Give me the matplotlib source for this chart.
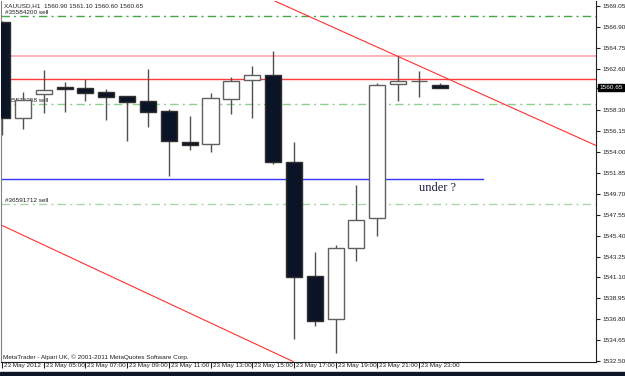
import matplotlib
matplotlib.use("Agg")
import matplotlib.pyplot as plt
import matplotlib.patches as patches
from matplotlib.transforms import ScaledTranslation
import numpy as np

# hourly XAUUSD bars, 23 May 2012 03:00 .. 24 May 00:00
opens = [1567.44, 1557.52, 1559.98, 1560.66, 1560.60, 1560.15, 1559.74, 1559.30, 1558.27, 1555.09, 1554.85,
         1559.47, 1561.42, 1561.94, 1553.03, 1541.23, 1536.78, 1544.13, 1547.25, 1561.04, 1561.32, 1560.90]
highs = [1567.50, 1560.22, 1562.48, 1561.25, 1561.52, 1560.50, 1559.80, 1562.55, 1558.40, 1557.76, 1560.05,
         1561.69, 1562.89, 1564.43, 1555.09, 1543.72, 1544.41, 1550.64, 1561.11, 1563.85, 1562.38, 1561.10]
lows = [1555.81, 1556.39, 1557.99, 1558.10, 1559.22, 1557.35, 1555.19, 1556.63, 1551.52, 1554.27, 1553.99,
        1557.93, 1557.52, 1552.73, 1534.79, 1536.09, 1533.29, 1542.77, 1545.36, 1559.30, 1559.64, 1560.60]
closes = [1557.52, 1559.37, 1560.40, 1560.53, 1560.05, 1559.64, 1559.12, 1558.17, 1555.12, 1554.78, 1559.53,
          1561.35, 1561.94, 1552.96, 1541.12, 1536.64, 1544.17, 1547.05, 1560.94, 1561.28, 1561.32, 1560.65]

time_labels = ["23 May 2012", "23 May 05:00", "23 May 07:00", "23 May 09:00", "23 May 11:00", "23 May 13:00",
               "23 May 15:00", "23 May 17:00", "23 May 19:00", "23 May 21:00", "23 May 23:00"]
price_ticks = [1532.50, 1534.65, 1536.80, 1538.95, 1541.10, 1543.25, 1545.40, 1547.55, 1549.70,
               1551.85, 1554.00, 1556.15, 1558.30, 1560.65, 1562.60, 1564.75, 1566.90, 1569.05]
current_price = 1560.65

order_levels = [1568.02, 1558.99, 1548.62]
order_labels = ["#35584200 sell", "#35575358 sell", "#36591712 sell"]
order_colors = ["#44a844", "#8fcf8f", "#a8d8a8"]
pink_level = 1563.85
red_level = 1561.52
blue_level = 1551.22
blue_end = 23.07

upper_trend_x = [12.75, 28.6]
upper_trend_y = [1569.88, 1554.58]
lower_trend_x = [-0.5, 13.96]
lower_trend_y = [1546.96, 1532.45]

header = "XAUUSD,H1  1560.90 1561.10 1560.60 1560.65"
copyright_text = "MetaTrader - Alpari UK, \u00a9 2001-2011 MetaQuotes Software Corp."
note_text = "under ?"

small_font = "Liberation Sans"
small_size = 4.6
text_col = "#202020"
W, H = 625, 376

fig = plt.figure(figsize=(W / 100, H / 100), dpi=100)
fig.patch.set_facecolor("white")
ax = fig.add_axes([1 / W, (H - 362) / H, 595 / W, 361 / H])
ax.set_facecolor("white")
ax.set_xlim(-0.05, 28.49)
ax.set_ylim(1532.40, 1569.56)

# order lines and their labels (drawn under the candles)
for lvl, lab, col in zip(order_levels, order_labels, order_colors):
    ax.axhline(lvl, color=col, lw=1, ls=(0, (6, 3, 1.5, 3)), zorder=1)
    ax.text(0.15, lvl + 0.12, lab, fontsize=small_size, family=small_font, color=text_col, va="bottom",
            ha="left", zorder=1)

ax.axhline(pink_level, color="#ffa8a8", lw=1.2, zorder=1)
ax.axhline(red_level, color="#ff3c3c", lw=1, zorder=1)
ax.plot([-0.5, blue_end], [blue_level, blue_level], color="#3333ff", lw=1, zorder=1)
ax.plot(upper_trend_x, upper_trend_y, color="#ff3030", lw=0.8, zorder=1)
ax.plot(lower_trend_x, lower_trend_y, color="#ff3030", lw=0.8, zorder=1)

# candles
x = np.arange(len(opens))
o = np.array(opens)
c = np.array(closes)
up = c >= o
ax.vlines(x, lows, highs, color="#505050", lw=1, zorder=2)
body_lo = np.minimum(o, c)
body_h = np.abs(c - o)
ax.bar(x[up], body_h[up], bottom=body_lo[up], width=0.77, color="white", edgecolor="#606060", lw=1, zorder=3)
ax.bar(x[~up], body_h[~up], bottom=body_lo[~up], width=0.77, color="#0b1426", edgecolor="#303030", lw=1, zorder=3)

ax.text(20.0, 1550.3, note_text, fontsize=9, family="Liberation Serif", color="#1a1a3a", ha="left", va="center")

# axes styling like the terminal
ax.spines["top"].set_visible(False)
ax.spines["left"].set_color("#808080")
ax.spines["right"].set_color("#202020")
ax.spines["bottom"].set_color("#202020")
ax.yaxis.tick_right()
ax.set_yticks(price_ticks)
ax.set_yticklabels(["" if p == current_price else f"{p:.2f}" for p in price_ticks],
                   fontsize=small_size, family=small_font, color=text_col)
ax.tick_params(axis="y", length=3, width=0.8, pad=2, color=text_col)
ax.set_xticks(np.arange(0, 21, 2))
ax.set_xticklabels(time_labels, fontsize=small_size, family=small_font, color=text_col, ha="left")
ax.tick_params(axis="x", length=4, width=0.8, pad=-3, color=text_col)
shift = ScaledTranslation(2 / 100, 0, fig.dpi_scale_trans)
for lbl in ax.get_xticklabels():
    lbl.set_transform(lbl.get_transform() + shift)

# current price flag on the axis
ax.text(1.006, current_price, f"{current_price:.2f}", transform=ax.get_yaxis_transform(), fontsize=small_size,
        family=small_font, color="white", va="center", ha="left",
        bbox=dict(boxstyle="square,pad=0.2", fc="black", ec="black"))

fig.text(4 / W, 1 - 6 / H, header, fontsize=small_size, family=small_font, color=text_col, va="center",
         ha="left")
fig.text(3 / W, 1 - 357 / H, copyright_text, fontsize=small_size, family=small_font, color=text_col,
         va="center", ha="left")

# window frame strip at the bottom
fig.patches.append(patches.Rectangle((0, 0), 1, 4 / H, transform=fig.transFigure, color="#0c1628"))

fig.savefig("out.png", dpi=100)
